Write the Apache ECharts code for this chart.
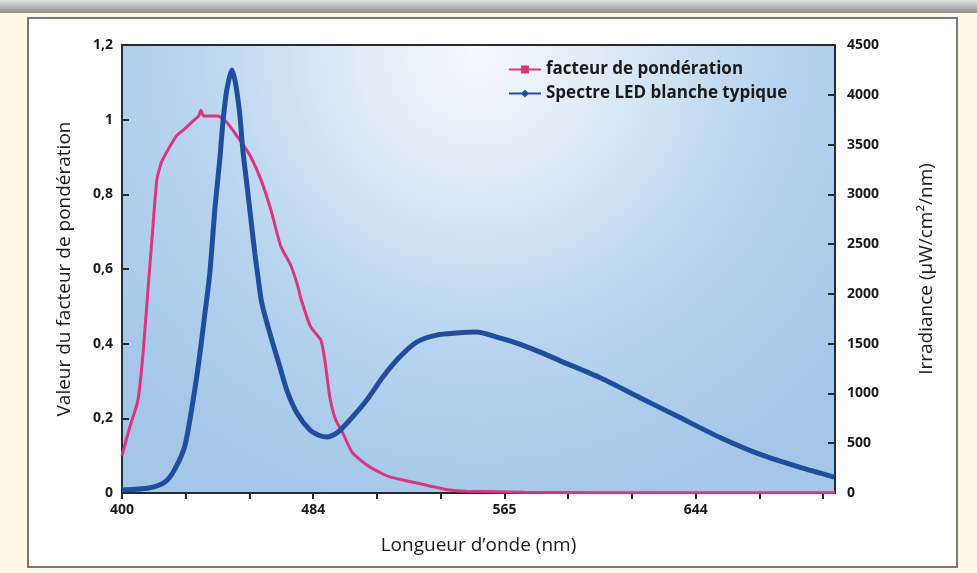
<!DOCTYPE html>
<html>
<head>
<meta charset="utf-8">
<script src="https://cdn.jsdelivr.net/npm/echarts@6/dist/echarts.min.js"></script>
<style>
html,body{margin:0;padding:0;background:#fdf7e4;}
#c{width:977px;height:573px;}
</style>
</head>
<body>
<div id="c"></div>
<script>
// ---- data ----
const xTickLabels = ['400','','','484','','','565','','','644','',''];
const leftTicks = [0, 0.2, 0.4, 0.6, 0.8, 1, 1.2];
const rightTicks = [0, 500, 1000, 1500, 2000, 2500, 3000, 3500, 4000, 4500];

const pinkWavelength = [400, 403, 406.8, 409, 411, 412.7, 414.8, 417, 423, 426.5, 430, 432.5, 433.4, 434.6, 440.5, 444.8, 451.6, 454.6, 458.8, 463, 467.3, 471.5, 474.5, 475.8, 479.9, 484.2, 485.9, 488, 490.5, 493.5, 497.7, 504.9, 513.4, 524.8, 538.8, 546, 570, 600, 650, 702];
const pinkWeighting = [0.10, 0.17, 0.25, 0.38, 0.545, 0.68, 0.84, 0.89, 0.956, 0.975, 0.996, 1.01, 1.025, 1.01, 1.01, 0.99, 0.93, 0.90, 0.84, 0.76, 0.66, 0.61, 0.553, 0.52, 0.445, 0.41, 0.357, 0.258, 0.196, 0.161, 0.107, 0.07, 0.043, 0.027, 0.008, 0.005, 0.002, 0.001, 0.001, 0.001];

const ledWavelength = [400, 411.4, 418.2, 422.4, 426.7, 430.9, 433.0, 435.1, 437.2, 439.4, 441.5, 442.7, 444.4, 446.6, 448.2, 449.9, 451.2, 452.9, 454.6, 456.3, 458.0, 459.2, 462.6, 466.9, 469.8, 474.1, 479.6, 483.8, 486.8, 491.0, 496.5, 503.7, 510.5, 517.6, 524.8, 533.3, 541.8, 550.2, 558.7, 567.2, 578.2, 585.4, 602.3, 619.2, 636.1, 653.1, 670.0, 686.9, 701.7];
const ledIrradiance = [30, 50, 110, 240, 480, 1050, 1400, 1800, 2210, 2870, 3370, 3715, 4050, 4250, 4100, 3800, 3440, 3100, 2750, 2400, 2100, 1908, 1606, 1265, 1034, 803, 632, 575, 562, 602, 733, 934, 1165, 1365, 1516, 1586, 1606, 1616, 1566, 1506, 1405, 1330, 1160, 960, 760, 560, 390, 260, 160];

const seriesNames = ['facteur de pondération', 'Spectre LED blanche typique'];

const pinkData = pinkWavelength.map((w, i) => [w, pinkWeighting[i]]);
const ledData = ledWavelength.map((w, i) => [w, ledIrradiance[i]]);

const chart = echarts.init(document.getElementById('c'), null, {renderer: 'canvas'});
const labelFont = {color: '#1a1a1a', fontFamily: 'Open Sans', fontWeight: 'bold', fontSize: 14};
const nameFont = {color: '#1a1a1a', fontFamily: 'Open Sans', fontSize: 19};

chart.setOption({
  animation: false,
  backgroundColor: '#fdf7e4',
  graphic: [
    {type: 'rect', z: -10, shape: {x: 0, y: 0, width: 977, height: 13},
     style: {fill: {type: 'linear', x: 0, y: 0, x2: 0, y2: 1, colorStops: [{offset: 0, color: '#e4e4e4'}, {offset: 1, color: '#8e8e8e'}]}}, silent: true},
    {type: 'rect', z: -10, shape: {x: 28, y: 18, width: 929, height: 549},
     style: {fill: '#ffffff', stroke: '#7a7a7a', lineWidth: 2}, silent: true}
  ],
  grid: {
    left: 122, right: 142, top: 45, bottom: 80,
    show: true,
    borderColor: '#2a2a2a', borderWidth: 2,
    backgroundColor: {type: 'radial', x: 0.5, y: 0.02, r: 1.05,
      colorStops: [{offset: 0, color: '#f6f9fd'}, {offset: 0.25, color: '#e0ecf7'}, {offset: 0.6, color: '#b9d5ef'}, {offset: 1, color: '#a4c7e8'}]}
  },
  legend: {
    left: 503, top: 56, orient: 'vertical', itemGap: 7,
    itemWidth: 32, itemHeight: 10,
    textStyle: {color: '#1a1a1a', fontFamily: 'Open Sans', fontWeight: 'bold', fontSize: 17},
    data: seriesNames
  },
  xAxis: {
    type: 'value', min: 400, max: 702, interval: 27,
    name: 'Longueur d\u2019onde (nm)', nameLocation: 'middle', nameGap: 43,
    nameTextStyle: nameFont,
    axisLine: {lineStyle: {color: '#2a2a2a', width: 2}},
    axisTick: {inside: false, length: 6, lineStyle: {color: '#2a2a2a', width: 2}},
    axisLabel: Object.assign({margin: 10, showMaxLabel: false,
      formatter: v => { const k = Math.round((v - 400) / 27); return xTickLabels[k] || ''; }}, labelFont),
    splitLine: {show: false}
  },
  yAxis: [
    {
      type: 'value', min: leftTicks[0], max: leftTicks[leftTicks.length - 1], interval: 0.2,
      name: 'Valeur du facteur de pondération', nameLocation: 'middle', nameGap: 48, nameRotate: 90,
      nameTextStyle: nameFont,
      axisLine: {show: true, lineStyle: {color: '#2a2a2a', width: 2}},
      axisTick: {show: true, inside: true, length: 7, lineStyle: {color: '#2a2a2a', width: 2}},
      axisLabel: Object.assign({margin: 9, formatter: v => String(+v.toFixed(1)).replace('.', ',')}, labelFont),
      splitLine: {show: false}
    },
    {
      type: 'value', min: rightTicks[0], max: rightTicks[rightTicks.length - 1], interval: 500,
      position: 'right',
      name: 'Irradiance (\u00b5W/cm\u00b2/nm)', nameLocation: 'middle', nameGap: 82, nameRotate: 90,
      nameTextStyle: nameFont,
      axisLine: {show: true, lineStyle: {color: '#2a2a2a', width: 2}},
      axisTick: {show: true, inside: true, length: 7, lineStyle: {color: '#2a2a2a', width: 2}},
      axisLabel: Object.assign({margin: 12, formatter: v => String(v)}, labelFont),
      splitLine: {show: false}
    }
  ],
  series: [
    {
      name: seriesNames[0], type: 'line', yAxisIndex: 0, data: pinkData,
      smooth: 0.2, showSymbol: false, symbol: 'rect', symbolSize: 8,
      lineStyle: {color: '#d9367f', width: 3}, itemStyle: {color: '#d9367f'}
    },
    {
      name: seriesNames[1], type: 'line', yAxisIndex: 1, data: ledData,
      smooth: 0.25, showSymbol: false, symbol: 'diamond', symbolSize: 10,
      lineStyle: {color: '#1f4f9c', width: 5}, itemStyle: {color: '#1f4f9c'}
    }
  ]
});
</script>
</body>
</html>
